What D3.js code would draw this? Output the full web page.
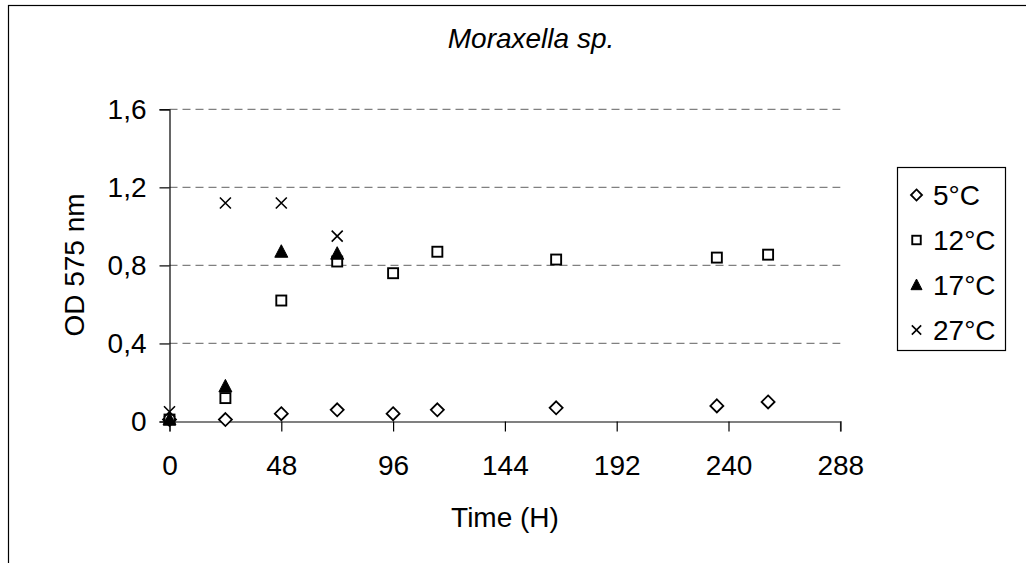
<!DOCTYPE html>
<html><head><meta charset="utf-8">
<script src="https://cdn.jsdelivr.net/npm/d3@7"></script>
<style>body{margin:0;background:#fff}svg{display:block;font-family:"Liberation Sans",Arial,sans-serif}</style>
</head><body>
<svg id="c" width="1026" height="563"></svg>
<script>
const times = [0, 24, 48, 72, 96, 115, 166, 235, 257];
const t5  = [0.01, 0.01, 0.04, 0.06, 0.04, 0.06, 0.07, 0.08, 0.10];
const t12 = [0.01, 0.12, 0.62, 0.82, 0.76, 0.87, 0.83, 0.84, 0.855];
const t17 = [0.01, 0.18, 0.87, 0.86];
const t27 = [0.05, 1.12, 1.12, 0.95];
const xTicks = [0, 48, 96, 144, 192, 240, 288];
const yTicks = [0, 0.4, 0.8, 1.2, 1.6];
const seriesNames = ["5°C", "12°C", "17°C", "27°C"];
const seriesVals = [t5, t12, t17, t27];
const seriesShapes = ["diamond", "square", "triangle", "cross"];

const svg = d3.select("#c");
const x = d3.scaleLinear().domain([0, 288]).range([169.5, 840.3]);
const y = d3.scaleLinear().domain([0, 1.6]).range([421.5, 109.3]);

// outer frame
svg.append("rect").attr("x", 8.5).attr("y", 5.5).attr("width", 1100).attr("height", 700)
  .attr("fill", "none").attr("stroke", "#000").attr("stroke-width", 1.2);

// title
svg.append("text").attr("x", 531).attr("y", 47.5).attr("text-anchor", "middle")
  .attr("font-size", 28).attr("font-style", "italic").text("Moraxella sp.");

// gridlines
svg.append("g").selectAll("line").data(yTicks.filter(d => d > 0)).join("line")
  .attr("x1", x(0)).attr("x2", x(288)).attr("y1", d => y(d)).attr("y2", d => y(d))
  .attr("stroke", "#808080").attr("stroke-width", 1.3).attr("stroke-dasharray", "8,5");

// x axis
const xa = svg.append("g").attr("transform", `translate(0,${y(0)})`)
  .call(d3.axisBottom(x).tickValues(xTicks).tickSize(10).tickPadding(24).tickFormat(d3.format("d")));
xa.select(".domain").attr("stroke", "#808080").attr("stroke-width", 1.8);
xa.selectAll(".tick line").attr("stroke", "#000").attr("stroke-width", 1.2);
xa.selectAll("text").attr("font-size", 28).attr("fill", "#000").attr("font-family", "Liberation Sans, Arial, sans-serif");

// y axis
const ya = svg.append("g").attr("transform", `translate(${x(0)},0)`)
  .call(d3.axisLeft(y).tickValues(yTicks).tickSize(10).tickPadding(13)
    .tickFormat(d => d === 0 ? "0" : d3.format(".1f")(d).replace(".", ",")));
ya.select(".domain").attr("stroke", "#000").attr("stroke-width", 1.2);
ya.selectAll(".tick line").attr("stroke", "#000").attr("stroke-width", 1.2);
ya.selectAll("text").attr("font-size", 28).attr("fill", "#000").attr("font-family", "Liberation Sans, Arial, sans-serif");

// axis titles
svg.append("text").attr("x", 505).attr("y", 527).attr("text-anchor", "middle")
  .attr("font-size", 28).text("Time (H)");
svg.append("text").attr("transform", "translate(84,265) rotate(-90)").attr("text-anchor", "middle")
  .attr("font-size", 28).text("OD 575 nm");

function drawMarker(g, shape, cx, cy, s) {
  if (shape === "diamond") {
    g.append("path").attr("d", `M${cx},${cy - 6.5*s}L${cx + 6.5*s},${cy}L${cx},${cy + 6.5*s}L${cx - 6.5*s},${cy}Z`)
      .attr("fill", "#fff").attr("stroke", "#000").attr("stroke-width", 1.8);
  } else if (shape === "square") {
    g.append("rect").attr("x", cx - 5*s).attr("y", cy - 5*s).attr("width", 10*s).attr("height", 10*s)
      .attr("fill", "#fff").attr("stroke", "#000").attr("stroke-width", 1.9);
  } else if (shape === "triangle") {
    g.append("path").attr("d", `M${cx},${cy - 7*s}L${cx + 6.5*s},${cy + 5.5*s}L${cx - 6.5*s},${cy + 5.5*s}Z`)
      .attr("fill", "#000").attr("stroke", "#000").attr("stroke-width", 1);
  } else {
    g.append("path").attr("d", `M${cx - 5.5*s},${cy - 5.5*s}L${cx + 5.5*s},${cy + 5.5*s}M${cx + 5.5*s},${cy - 5.5*s}L${cx - 5.5*s},${cy + 5.5*s}`)
      .attr("fill", "none").attr("stroke", "#000").attr("stroke-width", 1.6);
  }
}

// points
seriesVals.forEach((vals, i) => {
  const g = svg.append("g");
  vals.forEach((v, j) => drawMarker(g, seriesShapes[i], x(times[j]), y(v), 1));
});

// legend
const lg = svg.append("g");
lg.append("rect").attr("x", 897.5).attr("y", 167.5).attr("width", 108).attr("height", 183)
  .attr("fill", "#fff").attr("stroke", "#000").attr("stroke-width", 1.2);
const ly = d3.scalePoint().domain(seriesNames).range([195, 330]);
seriesNames.forEach((n, i) => {
  drawMarker(lg, seriesShapes[i], 916.5, ly(n), 0.85);
  lg.append("text").attr("x", 933).attr("y", ly(n)).attr("dy", "0.36em")
    .attr("font-size", 28).text(n);
});
</script>
</body></html>
